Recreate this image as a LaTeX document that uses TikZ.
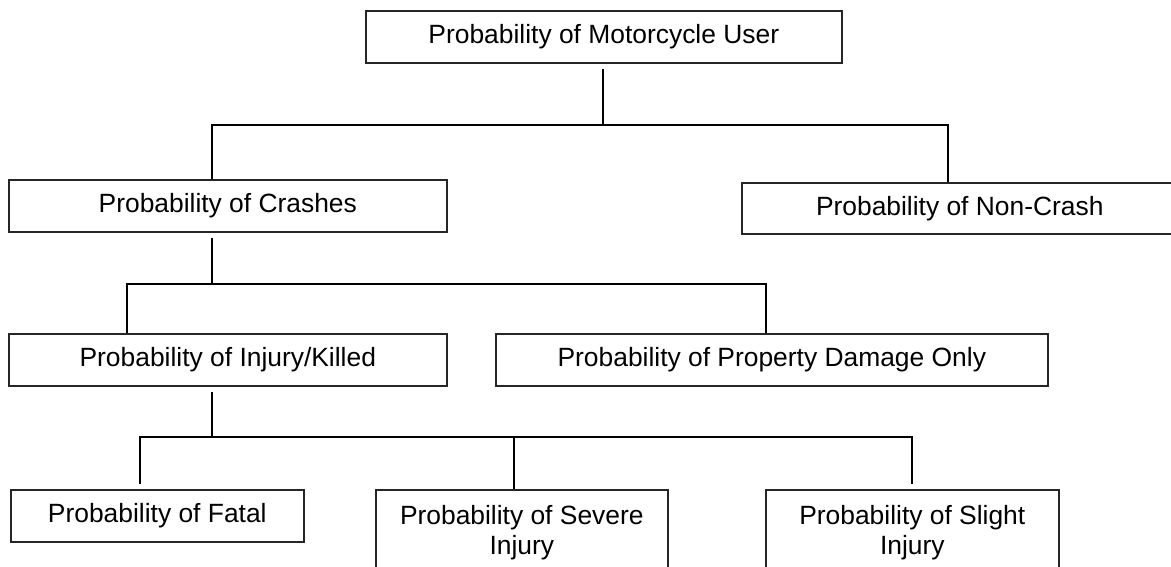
\documentclass[tikz,border=0pt]{standalone}
\usepackage{fontspec}
\setmainfont{Liberation Sans}
\usetikzlibrary{calc}
\begin{document}
\begin{tikzpicture}[x=1pt,y=-1pt,
  box/.style={draw=black!85, line width=1.6pt, rectangle, inner sep=0pt, anchor=north west,
    font=\fontsize{26.4}{30}\selectfont, align=center},
  conn/.style={draw=black, line width=1.8pt}]
\useasboundingbox (0,0) rectangle (1171,567);
\fill[white] (0,0) rectangle (1171,567);
% boxes
\node[box, minimum width=476, minimum height=52] (top) at (365,10) {Probability of Motorcycle User};
\node[box, minimum width=438, minimum height=52] (crash) at (8,179) {Probability of Crashes};
\node[box, minimum width=436, minimum height=51] (noncrash) at (741,182) {Probability of Non-Crash};
\node[box, minimum width=438, minimum height=52] (injury) at (8,333) {Probability of Injury/Killed};
\node[box, minimum width=552, minimum height=52] (property) at (495,333) {Probability of Property Damage Only};
\node[box, minimum width=293, minimum height=52] (fatal) at (10,489) {Probability of Fatal};
\node[box, minimum width=292, minimum height=86] (severe) at (375,489) {Probability of Severe\\Injury};
\node[box, minimum width=293, minimum height=86] (slight) at (765,489) {Probability of Slight\\Injury};
% level 1 connectors
\coordinate (b1) at (603,125);
\coordinate (b1l) at (212,125);
\coordinate (b1r) at (948,125);
\draw[conn] ($(top.south -| b1)+(0,5)$) -- (b1);
\draw[conn] (crash.north -| b1l) -- (b1l) -- (b1r) -- (noncrash.north -| b1r);
% level 2 connectors
\coordinate (b2) at (212,284);
\coordinate (b2l) at (127,284);
\coordinate (b2r) at (766,284);
\draw[conn] ($(crash.south -| b2)+(0,5)$) -- (b2);
\draw[conn] (injury.north -| b2l) -- (b2l) -- (b2r) -- (property.north -| b2r);
% level 3 connectors
\coordinate (b3) at (212,437);
\coordinate (b3l) at (140,437);
\coordinate (b3m) at (514,437);
\coordinate (b3r) at (912,437);
\draw[conn] ($(injury.south -| b3)+(0,5)$) -- (b3);
\draw[conn] ($(fatal.north -| b3l)+(0,-5)$) -- (b3l) -- (b3r) -- ($(slight.north -| b3r)+(0,-5)$);
\draw[conn] (b3m) -- (severe.north -| b3m);
\end{tikzpicture}
\end{document}
